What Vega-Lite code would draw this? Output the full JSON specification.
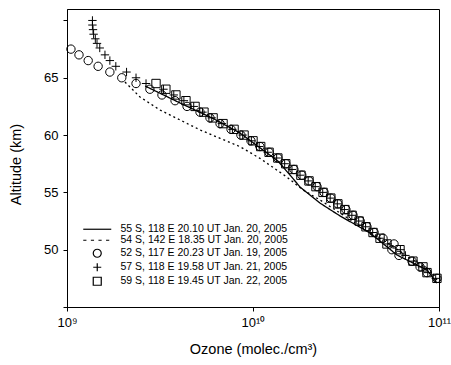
{
  "$schema": "https://vega.github.io/schema/vega-lite/v6.json",
  "autosize": "none",
  "padding": {"left": 67, "top": 9, "right": 12, "bottom": 58},
  "width": 372,
  "height": 298,
  "background": "white",
  "config": {
    "view": {"stroke": "black", "strokeWidth": 1},
    "axis": {
      "domainColor": "black", "domainWidth": 1,
      "tickColor": "black", "tickWidth": 1,
      "labelColor": "black", "titleColor": "black",
      "labelFont": "Liberation Sans", "titleFont": "Liberation Sans",
      "labelFontSize": 13, "titleFontSize": 14.5, "titleFontWeight": "normal",
      "grid": false,
      "labelOverlap": false, "labelFlush": false
    }
  },
  "datasets": {
    "lines": [
      {"s": "55 S, 118 E 20.10 UT Jan. 20, 2005", "ozone": 2.63e9, "alt": 64.28},
      {"s": "55 S, 118 E 20.10 UT Jan. 20, 2005", "ozone": 4.05e9, "alt": 62.8},
      {"s": "55 S, 118 E 20.10 UT Jan. 20, 2005", "ozone": 6.1e9, "alt": 61.45},
      {"s": "55 S, 118 E 20.10 UT Jan. 20, 2005", "ozone": 8.51e9, "alt": 60.18},
      {"s": "55 S, 118 E 20.10 UT Jan. 20, 2005", "ozone": 1.36e10, "alt": 57.74},
      {"s": "55 S, 118 E 20.10 UT Jan. 20, 2005", "ozone": 1.58e10, "alt": 56.52},
      {"s": "55 S, 118 E 20.10 UT Jan. 20, 2005", "ozone": 1.79e10, "alt": 55.47},
      {"s": "55 S, 118 E 20.10 UT Jan. 20, 2005", "ozone": 2.29e10, "alt": 54.07},
      {"s": "55 S, 118 E 20.10 UT Jan. 20, 2005", "ozone": 2.94e10, "alt": 52.94},
      {"s": "55 S, 118 E 20.10 UT Jan. 20, 2005", "ozone": 4.26e10, "alt": 51.46},
      {"s": "55 S, 118 E 20.10 UT Jan. 20, 2005", "ozone": 5.94e10, "alt": 49.54},
      {"s": "55 S, 118 E 20.10 UT Jan. 20, 2005", "ozone": 7.62e10, "alt": 48.66},
      {"s": "55 S, 118 E 20.10 UT Jan. 20, 2005", "ozone": 8.62e10, "alt": 48.23},
      {"s": "55 S, 118 E 20.10 UT Jan. 20, 2005", "ozone": 9.75e10, "alt": 47.09},
      {"s": "54 S, 142 E 18.35 UT Jan. 20, 2005", "ozone": 2.05e9, "alt": 64.63},
      {"s": "54 S, 142 E 18.35 UT Jan. 20, 2005", "ozone": 2.47e9, "alt": 63.32},
      {"s": "54 S, 142 E 18.35 UT Jan. 20, 2005", "ozone": 3.16e9, "alt": 62.19},
      {"s": "54 S, 142 E 18.35 UT Jan. 20, 2005", "ozone": 4.05e9, "alt": 61.32},
      {"s": "54 S, 142 E 18.35 UT Jan. 20, 2005", "ozone": 5.19e9, "alt": 60.45},
      {"s": "54 S, 142 E 18.35 UT Jan. 20, 2005", "ozone": 6.65e9, "alt": 59.72},
      {"s": "54 S, 142 E 18.35 UT Jan. 20, 2005", "ozone": 8.51e9, "alt": 58.99},
      {"s": "54 S, 142 E 18.35 UT Jan. 20, 2005", "ozone": 1.09e10, "alt": 57.97},
      {"s": "54 S, 142 E 18.35 UT Jan. 20, 2005", "ozone": 1.52e10, "alt": 56.34},
      {"s": "54 S, 142 E 18.35 UT Jan. 20, 2005", "ozone": 1.86e10, "alt": 55.21},
      {"s": "54 S, 142 E 18.35 UT Jan. 20, 2005", "ozone": 2.29e10, "alt": 54.34},
      {"s": "54 S, 142 E 18.35 UT Jan. 20, 2005", "ozone": 2.94e10, "alt": 53.2},
      {"s": "54 S, 142 E 18.35 UT Jan. 20, 2005", "ozone": 4.26e10, "alt": 51.46},
      {"s": "54 S, 142 E 18.35 UT Jan. 20, 2005", "ozone": 5.0e10, "alt": 50.85},
      {"s": "54 S, 142 E 18.35 UT Jan. 20, 2005", "ozone": 6.98e10, "alt": 49.28},
      {"s": "54 S, 142 E 18.35 UT Jan. 20, 2005", "ozone": 8.95e10, "alt": 48.23},
      {"s": "54 S, 142 E 18.35 UT Jan. 20, 2005", "ozone": 9.75e10, "alt": 47.36}
    ],
    "points": [
      {"s": "52 S, 117 E 20.23 UT Jan. 19, 2005", "ozone": 1.05e9, "alt": 67.5},
      {"s": "52 S, 117 E 20.23 UT Jan. 19, 2005", "ozone": 1.16e9, "alt": 67.0},
      {"s": "52 S, 117 E 20.23 UT Jan. 19, 2005", "ozone": 1.30e9, "alt": 66.5},
      {"s": "52 S, 117 E 20.23 UT Jan. 19, 2005", "ozone": 1.47e9, "alt": 66.0},
      {"s": "52 S, 117 E 20.23 UT Jan. 19, 2005", "ozone": 1.70e9, "alt": 65.5},
      {"s": "52 S, 117 E 20.23 UT Jan. 19, 2005", "ozone": 1.97e9, "alt": 65.0},
      {"s": "52 S, 117 E 20.23 UT Jan. 19, 2005", "ozone": 2.35e9, "alt": 64.5},
      {"s": "52 S, 117 E 20.23 UT Jan. 19, 2005", "ozone": 2.79e9, "alt": 64.0},
      {"s": "52 S, 117 E 20.23 UT Jan. 19, 2005", "ozone": 3.24e9, "alt": 63.5},
      {"s": "52 S, 117 E 20.23 UT Jan. 19, 2005", "ozone": 3.81e9, "alt": 63.0},
      {"s": "52 S, 117 E 20.23 UT Jan. 19, 2005", "ozone": 4.42e9, "alt": 62.5},
      {"s": "52 S, 117 E 20.23 UT Jan. 19, 2005", "ozone": 5.19e9, "alt": 62.0},
      {"s": "52 S, 117 E 20.23 UT Jan. 19, 2005", "ozone": 5.87e9, "alt": 61.5},
      {"s": "52 S, 117 E 20.23 UT Jan. 19, 2005", "ozone": 6.65e9, "alt": 61.0},
      {"s": "52 S, 117 E 20.23 UT Jan. 19, 2005", "ozone": 7.62e9, "alt": 60.5},
      {"s": "52 S, 117 E 20.23 UT Jan. 19, 2005", "ozone": 8.61e9, "alt": 60.0},
      {"s": "52 S, 117 E 20.23 UT Jan. 19, 2005", "ozone": 9.75e9, "alt": 59.5},
      {"s": "52 S, 117 E 20.23 UT Jan. 19, 2005", "ozone": 1.09e10, "alt": 59.0},
      {"s": "52 S, 117 E 20.23 UT Jan. 19, 2005", "ozone": 1.22e10, "alt": 58.5},
      {"s": "52 S, 117 E 20.23 UT Jan. 19, 2005", "ozone": 1.36e10, "alt": 58.0},
      {"s": "52 S, 117 E 20.23 UT Jan. 19, 2005", "ozone": 1.50e10, "alt": 57.5},
      {"s": "52 S, 117 E 20.23 UT Jan. 19, 2005", "ozone": 1.66e10, "alt": 57.0},
      {"s": "52 S, 117 E 20.23 UT Jan. 19, 2005", "ozone": 1.83e10, "alt": 56.5},
      {"s": "52 S, 117 E 20.23 UT Jan. 19, 2005", "ozone": 2.0e10, "alt": 56.0},
      {"s": "52 S, 117 E 20.23 UT Jan. 19, 2005", "ozone": 2.21e10, "alt": 55.5},
      {"s": "52 S, 117 E 20.23 UT Jan. 19, 2005", "ozone": 2.41e10, "alt": 55.0},
      {"s": "52 S, 117 E 20.23 UT Jan. 19, 2005", "ozone": 2.62e10, "alt": 54.5},
      {"s": "52 S, 117 E 20.23 UT Jan. 19, 2005", "ozone": 2.86e10, "alt": 54.0},
      {"s": "52 S, 117 E 20.23 UT Jan. 19, 2005", "ozone": 3.16e10, "alt": 53.5},
      {"s": "52 S, 117 E 20.23 UT Jan. 19, 2005", "ozone": 3.45e10, "alt": 53.0},
      {"s": "52 S, 117 E 20.23 UT Jan. 19, 2005", "ozone": 3.77e10, "alt": 52.5},
      {"s": "52 S, 117 E 20.23 UT Jan. 19, 2005", "ozone": 4.10e10, "alt": 52.0},
      {"s": "52 S, 117 E 20.23 UT Jan. 19, 2005", "ozone": 4.48e10, "alt": 51.5},
      {"s": "52 S, 117 E 20.23 UT Jan. 19, 2005", "ozone": 5.0e10, "alt": 51.0},
      {"s": "52 S, 117 E 20.23 UT Jan. 19, 2005", "ozone": 5.73e10, "alt": 50.5},
      {"s": "52 S, 117 E 20.23 UT Jan. 19, 2005", "ozone": 5.58e10, "alt": 50.0},
      {"s": "52 S, 117 E 20.23 UT Jan. 19, 2005", "ozone": 6.09e10, "alt": 49.5},
      {"s": "52 S, 117 E 20.23 UT Jan. 19, 2005", "ozone": 7.16e10, "alt": 49.0},
      {"s": "52 S, 117 E 20.23 UT Jan. 19, 2005", "ozone": 7.91e10, "alt": 48.5},
      {"s": "52 S, 117 E 20.23 UT Jan. 19, 2005", "ozone": 8.62e10, "alt": 48.0},
      {"s": "52 S, 117 E 20.23 UT Jan. 19, 2005", "ozone": 9.75e10, "alt": 47.5},
      {"s": "57 S, 118 E 19.58 UT Jan. 21, 2005", "ozone": 1.37e9, "alt": 70.0},
      {"s": "57 S, 118 E 19.58 UT Jan. 21, 2005", "ozone": 1.37e9, "alt": 69.6},
      {"s": "57 S, 118 E 19.58 UT Jan. 21, 2005", "ozone": 1.38e9, "alt": 69.2},
      {"s": "57 S, 118 E 19.58 UT Jan. 21, 2005", "ozone": 1.39e9, "alt": 68.8},
      {"s": "57 S, 118 E 19.58 UT Jan. 21, 2005", "ozone": 1.42e9, "alt": 68.4},
      {"s": "57 S, 118 E 19.58 UT Jan. 21, 2005", "ozone": 1.45e9, "alt": 68.0},
      {"s": "57 S, 118 E 19.58 UT Jan. 21, 2005", "ozone": 1.50e9, "alt": 67.6},
      {"s": "57 S, 118 E 19.58 UT Jan. 21, 2005", "ozone": 1.60e9, "alt": 67.0},
      {"s": "57 S, 118 E 19.58 UT Jan. 21, 2005", "ozone": 1.70e9, "alt": 66.5},
      {"s": "57 S, 118 E 19.58 UT Jan. 21, 2005", "ozone": 1.83e9, "alt": 66.0},
      {"s": "57 S, 118 E 19.58 UT Jan. 21, 2005", "ozone": 2.09e9, "alt": 65.5},
      {"s": "57 S, 118 E 19.58 UT Jan. 21, 2005", "ozone": 2.35e9, "alt": 65.0},
      {"s": "57 S, 118 E 19.58 UT Jan. 21, 2005", "ozone": 2.66e9, "alt": 64.5},
      {"s": "57 S, 118 E 19.58 UT Jan. 21, 2005", "ozone": 3.3e9, "alt": 64.0},
      {"s": "57 S, 118 E 19.58 UT Jan. 21, 2005", "ozone": 3.75e9, "alt": 63.5},
      {"s": "57 S, 118 E 19.58 UT Jan. 21, 2005", "ozone": 4.25e9, "alt": 63.0},
      {"s": "57 S, 118 E 19.58 UT Jan. 21, 2005", "ozone": 4.8e9, "alt": 62.5},
      {"s": "57 S, 118 E 19.58 UT Jan. 21, 2005", "ozone": 5.35e9, "alt": 62.0},
      {"s": "57 S, 118 E 19.58 UT Jan. 21, 2005", "ozone": 6.0e9, "alt": 61.5},
      {"s": "57 S, 118 E 19.58 UT Jan. 21, 2005", "ozone": 6.8e9, "alt": 61.0},
      {"s": "57 S, 118 E 19.58 UT Jan. 21, 2005", "ozone": 7.75e9, "alt": 60.5},
      {"s": "57 S, 118 E 19.58 UT Jan. 21, 2005", "ozone": 8.8e9, "alt": 60.0},
      {"s": "57 S, 118 E 19.58 UT Jan. 21, 2005", "ozone": 9.8e9, "alt": 59.5},
      {"s": "57 S, 118 E 19.58 UT Jan. 21, 2005", "ozone": 1.08e10, "alt": 59.0},
      {"s": "57 S, 118 E 19.58 UT Jan. 21, 2005", "ozone": 1.2e10, "alt": 58.5},
      {"s": "57 S, 118 E 19.58 UT Jan. 21, 2005", "ozone": 1.34e10, "alt": 58.0},
      {"s": "57 S, 118 E 19.58 UT Jan. 21, 2005", "ozone": 1.48e10, "alt": 57.5},
      {"s": "57 S, 118 E 19.58 UT Jan. 21, 2005", "ozone": 1.62e10, "alt": 57.0},
      {"s": "57 S, 118 E 19.58 UT Jan. 21, 2005", "ozone": 1.79e10, "alt": 56.5},
      {"s": "57 S, 118 E 19.58 UT Jan. 21, 2005", "ozone": 1.98e10, "alt": 56.0},
      {"s": "57 S, 118 E 19.58 UT Jan. 21, 2005", "ozone": 2.16e10, "alt": 55.5},
      {"s": "57 S, 118 E 19.58 UT Jan. 21, 2005", "ozone": 2.37e10, "alt": 55.0},
      {"s": "57 S, 118 E 19.58 UT Jan. 21, 2005", "ozone": 2.6e10, "alt": 54.5},
      {"s": "57 S, 118 E 19.58 UT Jan. 21, 2005", "ozone": 2.84e10, "alt": 54.0},
      {"s": "57 S, 118 E 19.58 UT Jan. 21, 2005", "ozone": 3.1e10, "alt": 53.5},
      {"s": "57 S, 118 E 19.58 UT Jan. 21, 2005", "ozone": 3.4e10, "alt": 53.0},
      {"s": "57 S, 118 E 19.58 UT Jan. 21, 2005", "ozone": 3.7e10, "alt": 52.5},
      {"s": "57 S, 118 E 19.58 UT Jan. 21, 2005", "ozone": 4.03e10, "alt": 52.0},
      {"s": "57 S, 118 E 19.58 UT Jan. 21, 2005", "ozone": 4.4e10, "alt": 51.5},
      {"s": "57 S, 118 E 19.58 UT Jan. 21, 2005", "ozone": 4.8e10, "alt": 51.0},
      {"s": "57 S, 118 E 19.58 UT Jan. 21, 2005", "ozone": 5.3e10, "alt": 50.5},
      {"s": "57 S, 118 E 19.58 UT Jan. 21, 2005", "ozone": 6.2e10, "alt": 50.0},
      {"s": "57 S, 118 E 19.58 UT Jan. 21, 2005", "ozone": 6.6e10, "alt": 49.5},
      {"s": "57 S, 118 E 19.58 UT Jan. 21, 2005", "ozone": 7.3e10, "alt": 49.0},
      {"s": "57 S, 118 E 19.58 UT Jan. 21, 2005", "ozone": 8.1e10, "alt": 48.5},
      {"s": "57 S, 118 E 19.58 UT Jan. 21, 2005", "ozone": 8.7e10, "alt": 48.0},
      {"s": "57 S, 118 E 19.58 UT Jan. 21, 2005", "ozone": 9.6e10, "alt": 47.5},
      {"s": "59 S, 118 E 19.45 UT Jan. 22, 2005", "ozone": 3.01e9, "alt": 64.5},
      {"s": "59 S, 118 E 19.45 UT Jan. 22, 2005", "ozone": 3.40e9, "alt": 64.0},
      {"s": "59 S, 118 E 19.45 UT Jan. 22, 2005", "ozone": 3.85e9, "alt": 63.5},
      {"s": "59 S, 118 E 19.45 UT Jan. 22, 2005", "ozone": 4.36e9, "alt": 63.0},
      {"s": "59 S, 118 E 19.45 UT Jan. 22, 2005", "ozone": 4.88e9, "alt": 62.5},
      {"s": "59 S, 118 E 19.45 UT Jan. 22, 2005", "ozone": 5.45e9, "alt": 62.0},
      {"s": "59 S, 118 E 19.45 UT Jan. 22, 2005", "ozone": 6.10e9, "alt": 61.5},
      {"s": "59 S, 118 E 19.45 UT Jan. 22, 2005", "ozone": 6.90e9, "alt": 61.0},
      {"s": "59 S, 118 E 19.45 UT Jan. 22, 2005", "ozone": 7.91e9, "alt": 60.5},
      {"s": "59 S, 118 E 19.45 UT Jan. 22, 2005", "ozone": 8.95e9, "alt": 60.0},
      {"s": "59 S, 118 E 19.45 UT Jan. 22, 2005", "ozone": 1.0e10, "alt": 59.5},
      {"s": "59 S, 118 E 19.45 UT Jan. 22, 2005", "ozone": 1.10e10, "alt": 59.0},
      {"s": "59 S, 118 E 19.45 UT Jan. 22, 2005", "ozone": 1.22e10, "alt": 58.5},
      {"s": "59 S, 118 E 19.45 UT Jan. 22, 2005", "ozone": 1.36e10, "alt": 58.0},
      {"s": "59 S, 118 E 19.45 UT Jan. 22, 2005", "ozone": 1.50e10, "alt": 57.5},
      {"s": "59 S, 118 E 19.45 UT Jan. 22, 2005", "ozone": 1.64e10, "alt": 57.0},
      {"s": "59 S, 118 E 19.45 UT Jan. 22, 2005", "ozone": 1.81e10, "alt": 56.5},
      {"s": "59 S, 118 E 19.45 UT Jan. 22, 2005", "ozone": 2.0e10, "alt": 56.0},
      {"s": "59 S, 118 E 19.45 UT Jan. 22, 2005", "ozone": 2.18e10, "alt": 55.5},
      {"s": "59 S, 118 E 19.45 UT Jan. 22, 2005", "ozone": 2.38e10, "alt": 55.0},
      {"s": "59 S, 118 E 19.45 UT Jan. 22, 2005", "ozone": 2.62e10, "alt": 54.5},
      {"s": "59 S, 118 E 19.45 UT Jan. 22, 2005", "ozone": 2.86e10, "alt": 54.0},
      {"s": "59 S, 118 E 19.45 UT Jan. 22, 2005", "ozone": 3.12e10, "alt": 53.5},
      {"s": "59 S, 118 E 19.45 UT Jan. 22, 2005", "ozone": 3.41e10, "alt": 53.0},
      {"s": "59 S, 118 E 19.45 UT Jan. 22, 2005", "ozone": 3.72e10, "alt": 52.5},
      {"s": "59 S, 118 E 19.45 UT Jan. 22, 2005", "ozone": 4.05e10, "alt": 52.0},
      {"s": "59 S, 118 E 19.45 UT Jan. 22, 2005", "ozone": 4.42e10, "alt": 51.5},
      {"s": "59 S, 118 E 19.45 UT Jan. 22, 2005", "ozone": 4.82e10, "alt": 51.0},
      {"s": "59 S, 118 E 19.45 UT Jan. 22, 2005", "ozone": 5.25e10, "alt": 50.5},
      {"s": "59 S, 118 E 19.45 UT Jan. 22, 2005", "ozone": 6.17e10, "alt": 50.0},
      {"s": "59 S, 118 E 19.45 UT Jan. 22, 2005", "ozone": 7.24e10, "alt": 49.0},
      {"s": "59 S, 118 E 19.45 UT Jan. 22, 2005", "ozone": 8.20e10, "alt": 48.5},
      {"s": "59 S, 118 E 19.45 UT Jan. 22, 2005", "ozone": 8.62e10, "alt": 48.0},
      {"s": "59 S, 118 E 19.45 UT Jan. 22, 2005", "ozone": 9.75e10, "alt": 47.5}
    ]
  },
  "encoding": {
    "x": {
      "field": "ozone", "type": "quantitative",
      "scale": {"type": "log", "domain": [1e9, 1e11], "nice": false},
      "axis": {
        "title": "Ozone (molec./cm³)",
        "values": [1e9, 2e9, 3e9, 4e9, 5e9, 6e9, 7e9, 8e9, 9e9, 1e10, 2e10, 3e10, 4e10, 5e10, 6e10, 7e10, 8e10, 9e10, 1e11],
        "labelExpr": "datum.value == 1e9 ? '10⁹' : datum.value == 1e10 ? '10¹⁰' : datum.value == 1e11 ? '10¹¹' : ''",
        "tickSize": {"condition": {"test": "datum.value == 1e9 || datum.value == 1e10 || datum.value == 1e11", "value": 4}, "value": 0},
        "encode": {
          "ticks": {
            "update": {
              "y": [
                {"test": "datum.value == 1e9 || datum.value == 1e10 || datum.value == 1e11", "value": -5},
                {"value": -3}
              ]
            }
          }
        },
        "labelPadding": 5,
        "titlePadding": 13
      }
    },
    "y": {
      "field": "alt", "type": "quantitative",
      "scale": {"domain": [45, 71], "nice": false, "zero": false},
      "axis": {
        "title": "Altitude (km)",
        "values": [45, 46, 47, 48, 49, 50, 51, 52, 53, 54, 55, 56, 57, 58, 59, 60, 61, 62, 63, 64, 65, 66, 67, 68, 69, 70],
        "labelExpr": "(datum.value % 5 === 0 && datum.value >= 50 && datum.value <= 65) ? datum.label : ''",
        "tickSize": {"condition": {"test": "datum.value % 5 === 0", "value": 4}, "value": 0},
        "encode": {
          "ticks": {
            "update": {
              "x": [
                {"test": "datum.value % 5 === 0", "value": 5},
                {"value": 3}
              ]
            }
          }
        },
        "labelPadding": 5,
        "titlePadding": 20,
        "titleY": 155
      }
    }
  },
  "layer": [
    {
      "data": {"name": "lines"},
      "mark": {"type": "line", "color": "black", "strokeWidth": 1.3},
      "encoding": {
        "strokeDash": {
          "field": "s", "type": "nominal",
          "scale": {"domain": ["55 S, 118 E 20.10 UT Jan. 20, 2005", "54 S, 142 E 18.35 UT Jan. 20, 2005"], "range": [[1, 0], [2, 3]]},
          "legend": null
        }
      }
    },
    {
      "data": {"name": "points"},
      "mark": {"type": "point", "filled": false, "stroke": "black", "strokeWidth": 1, "size": 70, "opacity": 1},
      "encoding": {
        "shape": {
          "field": "s", "type": "nominal",
          "scale": {
            "domain": ["55 S, 118 E 20.10 UT Jan. 20, 2005", "54 S, 142 E 18.35 UT Jan. 20, 2005", "52 S, 117 E 20.23 UT Jan. 19, 2005", "57 S, 118 E 19.58 UT Jan. 21, 2005", "59 S, 118 E 19.45 UT Jan. 22, 2005"],
            "range": ["M-3.5,0L3.5,0", "M-3.5,0L-2.7,0M-1.6,0L-0.8,0M0.3,0L1.1,0M2.2,0L3.0,0", "circle", "M-1,0L1,0M0,-1L0,1", "square"]
          },
          "legend": {
            "title": null,
            "orient": "none",
            "legendX": 25,
            "legendY": 215,
            "labelFont": "Liberation Sans",
            "labelFontSize": 10.5,
            "labelColor": "black",
            "labelLimit": 0,
            "symbolSize": 64,
            "symbolStrokeColor": "black",
            "symbolFillColor": "transparent",
            "symbolStrokeWidth": 1.2,
            "symbolOpacity": 1,
            "labelOffset": 18,
            "rowPadding": 0,
            "padding": 0
          }
        }
      }
    }
  ]
}
